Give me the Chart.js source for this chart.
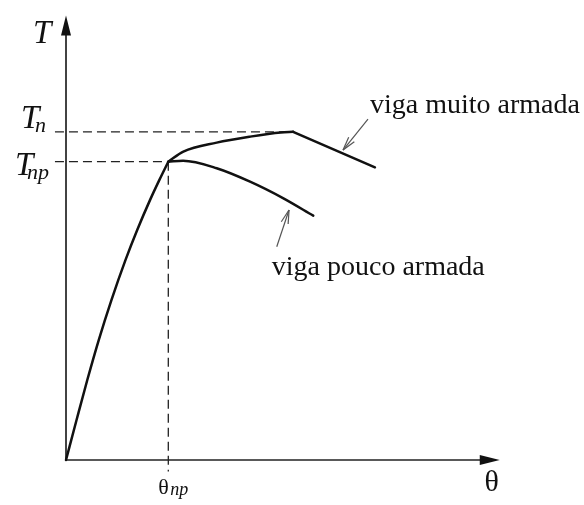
<!DOCTYPE html>
<html>
<head>
<meta charset="utf-8">
<script src="https://cdn.jsdelivr.net/npm/chart.js@4.4.0/dist/chart.umd.min.js"></script>
<style>
  html, body { margin: 0; padding: 0; background: #fff; }
  canvas { display: block; }
</style>
</head>
<body>
<canvas id="torque" width="584" height="505"></canvas>
<script>
// Torque x twist, normalised: theta / theta_np and T / T_np
const THETA_NP = 1.0;
const T_NP = 1.0;
const T_N = 1.10;

// elastic / cracked branch up to (theta_np, T_np)
const riseTheta = [0, 0.103, 0.208, 0.320, 0.444, 0.581, 0.696, 0.822, 0.913, 1.0];
const riseT     = [0, 0.134, 0.268, 0.402, 0.536, 0.670, 0.771, 0.872, 0.939, 1.0];

// heavily reinforced beam: keeps rising to T_n, then softens
const muitoTheta     = [1.0, 1.147, 1.473, 1.799, 2.10, 2.22];
const muitoT         = [1.0, 1.034, 1.064, 1.084, 1.098, 1.10];
const muitoDropTheta = [2.22, 3.02];
const muitoDropT     = [1.10, 0.981];

// lightly reinforced beam: peaks right at T_np
const poucoTheta = [1.0, 1.144, 1.473, 1.799, 2.121, 2.417];
const poucoT     = [1.0, 1.003, 0.978, 0.933, 0.878, 0.819];

// axes and guide extents
const axisThetaMax = 4.24;
const axisTMax = 1.49;
const guideLeft = -0.108;
const guideBottom = -0.039;

// leader arrows: [tailTheta, tailT, headTheta, headT]
const muitoLeader = [2.952, 1.143, 2.708, 1.039];
const poucoLeader = [2.060, 0.715, 2.180, 0.838];

const labelMuito = 'viga muito armada';
const labelPouco = 'viga pouco armada';

const pts = (xs, ys) => xs.map((x, i) => ({ x: x, y: ys[i] }));

const INK = '#111';
const SERIF = '"Liberation Serif", "DejaVu Serif", serif';

function curve(data, smooth) {
    return {
        data: data, borderColor: INK, borderWidth: 2.5, pointRadius: 0,
        fill: false, tension: 0, cubicInterpolationMode: smooth ? 'monotone' : 'default',
        borderCapStyle: 'round', borderJoinStyle: 'round'
    };
}
function guide(data) {
    return { data: data, borderColor: '#222', borderWidth: 1.3, borderDash: [9, 5], pointRadius: 0, fill: false, tension: 0 };
}
function leader(l) {
    return { data: [{ x: l[0], y: l[1] }, { x: l[2], y: l[3] }], borderColor: '#555', borderWidth: 1.2, pointRadius: 0, fill: false, tension: 0 };
}

const datasets = [
    curve(pts(riseTheta, riseT), true),
    curve(pts(muitoTheta, muitoT), true),
    curve(pts(muitoDropTheta, muitoDropT), false),
    curve(pts(poucoTheta, poucoT), true),
    guide([{ x: guideLeft, y: T_N }, { x: muitoTheta[muitoTheta.length - 1], y: T_N }]),
    guide([{ x: guideLeft, y: T_NP }, { x: THETA_NP, y: T_NP }]),
    guide([{ x: THETA_NP, y: T_NP }, { x: THETA_NP, y: guideBottom }]),
    { data: [{ x: 0, y: 0 }, { x: 0, y: axisTMax - 0.03 }], borderColor: '#222', borderWidth: 1.7, pointRadius: 0, tension: 0 },
    { data: [{ x: 0, y: 0 }, { x: axisThetaMax - 0.1, y: 0 }], borderColor: '#222', borderWidth: 1.7, pointRadius: 0, tension: 0 },
    leader(muitoLeader),
    leader(poucoLeader)
];

// arrowheads on the axes and leaders, plus all the labels
const annotations = {
    id: 'annotations',
    afterDatasetsDraw(chart) {
        const ctx = chart.ctx;
        const sx = chart.scales.x, sy = chart.scales.y;
        const px = v => sx.getPixelForValue(v), py = v => sy.getPixelForValue(v);
        const x0 = px(0), y0 = py(0);

        ctx.save();
        ctx.fillStyle = '#111';
        // T axis head
        const ty = py(axisTMax);
        ctx.beginPath();
        ctx.moveTo(x0, ty); ctx.lineTo(x0 - 5, ty + 20); ctx.lineTo(x0 + 5, ty + 20); ctx.closePath(); ctx.fill();
        // theta axis head
        const tx = px(axisThetaMax);
        ctx.beginPath();
        ctx.moveTo(tx, y0); ctx.lineTo(tx - 20, y0 - 5); ctx.lineTo(tx - 20, y0 + 5); ctx.closePath(); ctx.fill();

        // open heads on the leaders
        ctx.strokeStyle = '#555'; ctx.lineWidth = 1.2;
        [muitoLeader, poucoLeader].forEach(l => {
            const hx = px(l[2]), hy = py(l[3]);
            const a = Math.atan2(hy - py(l[1]), hx - px(l[0]));
            [0.26, -0.26].forEach(d => {
                ctx.beginPath();
                ctx.moveTo(hx, hy);
                ctx.lineTo(hx - 14 * Math.cos(a + d), hy - 14 * Math.sin(a + d));
                ctx.stroke();
            });
        });

        ctx.fillStyle = INK;
        ctx.textBaseline = 'alphabetic';
        ctx.textAlign = 'left';
        // T axis labels
        ctx.font = 'italic 33px ' + SERIF;
        ctx.fillText('T', x0 - 33, ty + 27);
        const yn = py(T_N), ynp = py(T_NP);
        ctx.fillText('T', x0 - 45, yn - 4);
        ctx.fillText('T', x0 - 51, ynp + 13);
        ctx.font = 'italic 22px ' + SERIF;
        ctx.fillText('n', x0 - 31, yn);
        ctx.fillText('np', x0 - 39, ynp + 17);

        // theta axis labels
        ctx.font = '30px ' + SERIF;
        ctx.textAlign = 'center';
        ctx.fillText('\u03b8', tx - 8, y0 + 31);
        const xnp = px(THETA_NP);
        ctx.textAlign = 'left';
        ctx.font = '22px ' + SERIF;
        ctx.fillText('\u03b8', xnp - 10, y0 + 34);
        ctx.font = 'italic 18px ' + SERIF;
        ctx.fillText('np', xnp + 2, y0 + 35);

        // curve names next to the leader tails
        ctx.font = '28px ' + SERIF;
        ctx.fillText(labelMuito, px(muitoLeader[0]) + 2, py(muitoLeader[1]) - 6);
        ctx.fillText(labelPouco, px(poucoLeader[0]) - 5, py(poucoLeader[1]) + 28);
        ctx.restore();
    }
};

new Chart(document.getElementById('torque'), {
    type: 'line',
    data: { datasets: datasets },
    options: {
        responsive: false, animation: false,
        layout: { padding: 0 },
        plugins: { legend: { display: false }, tooltip: { enabled: false } },
        scales: {
            x: { type: 'linear', display: false, min: -0.6452, max: 5.0635, bounds: 'data' },
            y: { type: 'linear', display: false, min: -0.1509, max: 1.5421, bounds: 'data' }
        }
    },
    plugins: [annotations]
});
</script>
</body>
</html>
